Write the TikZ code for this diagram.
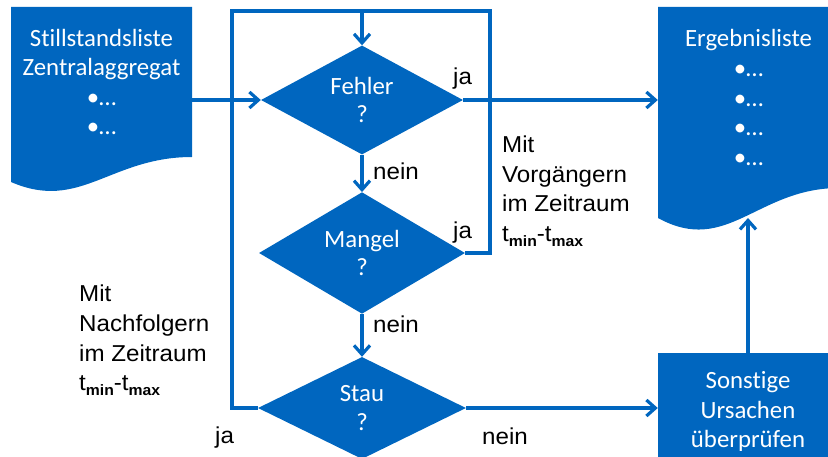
\documentclass[tikz,border=0pt]{standalone}
\usepackage{fontspec}
\setmainfont[Ligatures=NoCommon]{Carlito}
\newfontfamily\lblfont[FakeStretch=1.05]{Liberation Sans}
\usetikzlibrary{shapes.geometric,arrows.meta}
\definecolor{fcblue}{RGB}{0,102,191}
\newcommand{\mysub}[1]{\raisebox{-5pt}{\fontsize{15}{15}\selectfont\bfseries #1}}
\begin{document}
\begin{tikzpicture}[x=1pt,y=-1pt,
  flow/.style={draw=fcblue, line width=3.2pt},
  arr/.style={flow, -{Straight Barb[length=9pt,width=16pt]}},
  decision/.style={diamond, fill=fcblue, text=white, inner sep=0pt, align=center,
    font=\fontsize{24.8}{28.5}\selectfont},
  docbox/.style={rectangle, inner sep=0pt, text=white, align=center,
    font=\fontsize{24.8}{29.6}\selectfont},
  procbox/.style={rectangle, fill=fcblue, inner sep=0pt, text=white, align=center,
    font=\fontsize{24.8}{29.2}\selectfont},
  lbl/.style={inner sep=0pt, text=black, font=\lblfont\fontsize{23}{29.7}\selectfont}
]
\useasboundingbox (0,0) rectangle (828,457);
% document shapes (fill)
\fill[fcblue] (11,7) -- (192,7) -- (192,157) .. controls (110,157) and (80,212) .. (11,182) -- cycle;
\fill[fcblue] (658,7) -- (839,7) -- (839,188) .. controls (757,188) and (727,256) .. (658,218) -- cycle;
% nodes
\node[docbox, minimum width=181pt, minimum height=150pt] (stl) at (101.5,82)
  {Stillstandsliste\\Zentralaggregat\\•…\\•…};
\node[docbox, minimum width=181pt, minimum height=181pt] (erg) at (748.5,97.5)
  {Ergebnisliste\\•…\\•…\\•…\\•…};
\node[decision, minimum width=202pt, minimum height=100pt] (fehler) at (362,100) {Fehler\\?};
\node[decision, minimum width=206pt, minimum height=100pt] (mangel) at (362,253) {Mangel\\?};
\node[decision, minimum width=208pt, minimum height=102pt] (stau) at (362,408) {Stau\\?};
\node[procbox, minimum width=180pt, minimum height=117pt] (sonst) at (748,411.5)
  {Sonstige\\Ursachen\\überprüfen};
% helper coordinates
\coordinate (lt) at (232,11);
\coordinate (rt) at (490,11);
\coordinate (ergbot) at (748,218);
% connectors
\draw[arr] (stl.east |- fehler.west) -- (fehler.west);
\draw[arr] (fehler.east) -- (erg.west |- fehler.east);
\draw[arr] (fehler.south) -- (mangel.north);
\draw[arr] (mangel.south) -- (stau.north);
\draw[arr] (stau.east) -- (sonst.west |- stau.east);
\draw[arr] (sonst.north) -- (ergbot);
\draw[arr] (stau.west) -| (lt) -| (fehler.north);
\draw[flow] (mangel.east) -| (rt) -- (fehler.north |- rt);
% labels
\node[lbl, anchor=base west] (ja1) at (453,85) {ja};
\node[lbl, anchor=base west] (ja2) at (453,239) {ja};
\node[lbl, anchor=base west] (ja3) at (215,443) {ja};
\node[lbl, anchor=base west] (nein1) at (373,180) {nein};
\node[lbl, anchor=base west] (nein2) at (373,333) {nein};
\node[lbl, anchor=base west] (nein3) at (482,444) {nein};
\node[lbl, align=left, anchor=north west] (vorg) at (502,135.5)
  {Mit\\Vorgängern\\im Zeitraum\\t\mysub{min}-t\mysub{max}};
\node[lbl, align=left, anchor=north west] (nachf) at (79,285)
  {Mit\\Nachfolgern\\im Zeitraum\\t\mysub{min}-t\mysub{max}};
\end{tikzpicture}
\end{document}
